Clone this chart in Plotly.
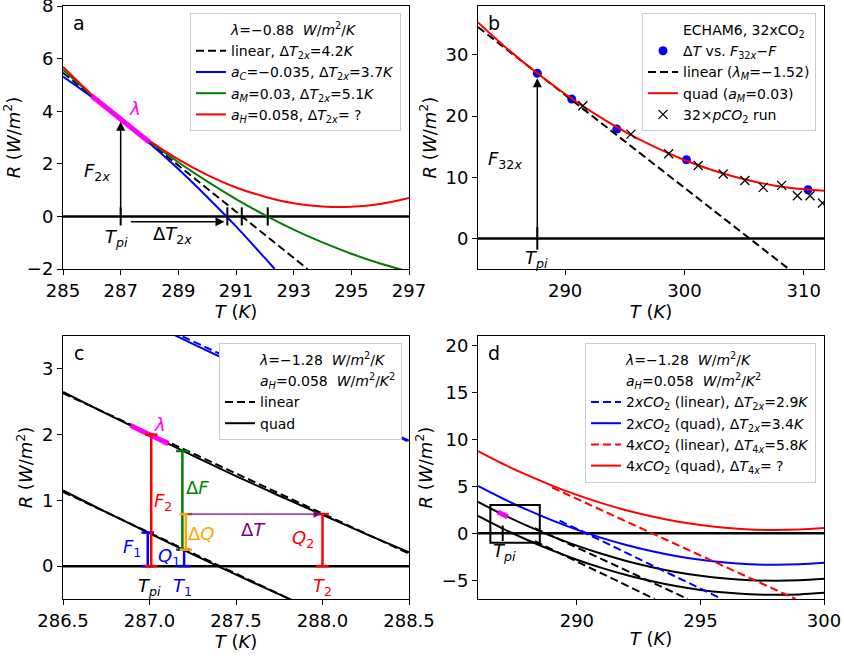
import plotly.graph_objects as go
from plotly.subplots import make_subplots

FONT = "DejaVu Sans"

# ---------------- Panel a data ----------------
a_T = [285, 286, 287, 288, 289, 290, 291, 292, 293, 294, 295, 296, 297]
a_lin_T = [285.0, 293.48]
a_lin_R = [5.46, -2.0]
a_blue_T = [285, 286, 287, 288, 289, 290, 291, 292, 292.34]
a_blue_R = [5.32, 4.54, 3.70, 2.78, 1.80, 0.74, -0.38, -1.58, -2.0]
a_green_R = [5.58, 4.61, 3.70, 2.85, 2.06, 1.33, 0.66, 0.05, -0.50, -0.99, -1.42, -1.79, -2.10]
a_red_R = [5.69, 4.63, 3.70, 2.87, 2.17, 1.58, 1.10, 0.75, 0.50, 0.38, 0.37, 0.47, 0.70]
a_lam_T = [286.0, 288.0]
a_lam_R = [4.58, 2.82]
a_tick_T = [287.0, 290.7, 291.2, 292.1]
a_Tpi = 287.0
a_F2x = 3.6
a_dT_arrow = [287.3, 290.6]

# ---------------- Panel b data ----------------
b_dot_T = [287.67, 290.56, 294.34, 300.17, 310.36]
b_dot_R = [27.0, 22.78, 17.87, 12.86, 7.96]
b_run_T = [291.49, 295.52, 298.68, 301.15, 303.25, 305.07, 306.61, 308.15, 309.47, 310.53, 311.57]
b_run_R = [21.68, 17.05, 13.84, 11.93, 10.52, 9.48, 8.34, 8.67, 6.98, 6.98, 5.78]
b_lin_T = [282.7, 308.75]
b_lin_R = [34.55, -5.0]
b_quad_T = [282.7, 285.0, 287.67, 290.0, 292.5, 295.0, 297.5, 300.0, 302.5, 305.0, 307.5, 310.0, 311.7]
b_quad_R = [35.30, 31.27, 27.0, 23.62, 20.36, 17.47, 14.96, 12.82, 11.06, 9.67, 8.66, 8.02, 7.80]
b_Tpi = 287.67
b_F32x = 26.2

# ---------------- Panel c data ----------------
c_T = [286.5, 286.75, 287.0, 287.25, 287.5, 287.75, 288.0, 288.25, 288.5]
c_up_R = [2.65, 2.32, 2.0, 1.68, 1.37, 1.07, 0.78, 0.49, 0.21]
c_lo_R = [1.15, 0.82, 0.5, 0.18, -0.13, -0.43, -0.72, -1.0, -1.28]
c_blue_R = [4.35, 4.02, 3.70, 3.38, 3.07, 2.77, 2.48, 2.19, 1.91]
c_up_lin_T = [286.5, 288.5]
c_up_lin_R = [2.63, 0.19]
c_lo_lin_T = [286.5, 287.85]
c_lo_lin_R = [1.13, -0.55]
c_blue_lin_T = [286.5, 288.5]
c_blue_lin_R = [4.34, 1.89]
c_lam_T = [286.89, 287.11]
c_lam_R = [2.14, 1.86]
c_F1_T, c_F1_R = [286.99, 286.99], [0.0, 0.51]
c_F2_T, c_F2_R = [287.01, 287.01], [0.0, 2.0]
c_Q1_T, c_Q1_R = [287.2, 287.2], [0.0, 0.25]
c_dF_T, c_dF_R = [287.19, 287.19], [0.25, 1.75]
c_dQ_T, c_dQ_R = [287.21, 287.21], [0.25, 0.79]
c_Q2_T, c_Q2_R = [288.0, 288.0], [0.0, 0.79]
c_dT_T = [287.21, 287.99]
c_dT_R = 0.79

# ---------------- Panel d data ----------------
d_T = [286, 287, 288, 289, 290, 291, 292, 293, 294, 295, 296, 297, 298, 299, 300]
d_up_R = [3.34, 2.0, 0.78, -0.33, -1.32, -2.19, -2.95, -3.59, -4.12, -4.53, -4.82, -5.0, -5.06, -5.01, -4.84]
d_lo_R = [1.84, 0.5, -0.72, -1.83, -2.82, -3.69, -4.45, -5.09, -5.62, -6.03, -6.32, -6.5, -6.56, -6.51, -6.34]
d_blue_R = [5.04, 3.7, 2.48, 1.37, 0.38, -0.49, -1.25, -1.89, -2.42, -2.83, -3.12, -3.3, -3.36, -3.31, -3.14]
d_red_R = [8.74, 7.4, 6.18, 5.07, 4.08, 3.21, 2.45, 1.81, 1.28, 0.87, 0.58, 0.4, 0.34, 0.39, 0.56]
d_up_lin_T, d_up_lin_R = [288.3, 294.49], [0.55, -7.0]
d_lo_lin_T, d_lo_lin_R = [288.3, 293.15], [-0.85, -7.0]
d_blue_lin_T, d_blue_lin_R = [289.3, 295.87], [1.35, -7.0]
d_red_lin_T, d_red_lin_R = [289.0, 298.85], [4.87, -7.0]
d_lam_T, d_lam_R = [286.8, 287.2], [2.26, 1.75]
d_Tpi = 287.0
d_box_R = [-1.0, 3.0]

# ---------------- ranges / ticks ----------------
a_xr, a_yr = [285, 297], [-2, 8]
b_xr, b_yr = [282.7, 311.7], [-5, 38]
c_xr, c_yr = [286.5, 288.5], [-0.5, 3.5]
d_xr, d_yr = [286, 300], [-7, 21]
a_xt, a_yt = [285, 287, 289, 291, 293, 295, 297], [-2, 0, 2, 4, 6, 8]
b_xt, b_yt = [290, 300, 310], [0, 10, 20, 30]
c_xt, c_yt = [286.5, 287.0, 287.5, 288.0, 288.5], [0, 1, 2, 3]
d_xt, d_yt = [290, 295, 300], [-5, 0, 5, 10, 15, 20]

W, H = 844, 664
fig = make_subplots(rows=2, cols=2)

DASH = "8px,4px"
LW = 2


def line(x, y, color, dash="solid", width=LW, row=1, col=1, name=None, legend=None, spline=False, show=False):
    fig.add_trace(go.Scatter(x=x, y=y, mode="lines",
                             line=dict(color=color, dash=dash, width=width,
                                       shape="spline" if spline else "linear", smoothing=1.0),
                             name=name, showlegend=show, legend=legend, hoverinfo="skip"),
                  row=row, col=col)


def header(text, legend, row, col):
    fig.add_trace(go.Scatter(x=[None], y=[None], mode="lines",
                             line=dict(color="rgba(0,0,0,0)", width=0),
                             name=text, showlegend=True, legend=legend), row=row, col=col)


def capbar(x, y, color, row, col):
    fig.add_trace(go.Scatter(x=x, y=y, mode="lines+markers",
                             line=dict(color=color, width=2.5),
                             marker=dict(symbol="line-ew", size=9, line=dict(color=color, width=2.5)),
                             showlegend=False, hoverinfo="skip"), row=row, col=col)


W_U = "<i>W</i>/<i>m</i><sup>2</sup>/<i>K</i>"

# ---- Panel a ----
header("<i>λ</i>=−0.88  " + W_U, "legend", 1, 1)
line(a_lin_T, a_lin_R, "black", DASH, row=1, col=1, show=True, legend="legend",
     name="linear, Δ<i>T</i><sub>2<i>x</i></sub>=4.2<i>K</i>")
line(a_blue_T, a_blue_R, "blue", row=1, col=1, show=True, legend="legend", spline=True,
     name="<i>a<sub>C</sub></i>=−0.035, Δ<i>T</i><sub>2<i>x</i></sub>=3.7<i>K</i>")
line(a_T, a_green_R, "green", row=1, col=1, show=True, legend="legend", spline=True,
     name="<i>a<sub>M</sub></i>=0.03, Δ<i>T</i><sub>2<i>x</i></sub>=5.1<i>K</i>")
line(a_T, a_red_R, "red", row=1, col=1, show=True, legend="legend", spline=True,
     name="<i>a<sub>H</sub></i>=0.058, Δ<i>T</i><sub>2<i>x</i></sub>= ?")
line(a_lam_T, a_lam_R, "#ff00ff", width=5, row=1, col=1)
fig.add_trace(go.Scatter(x=a_tick_T, y=[0] * len(a_tick_T), mode="markers",
                         marker=dict(symbol="line-ns", size=13, line=dict(color="black", width=2)),
                         showlegend=False, hoverinfo="skip"), row=1, col=1)

# ---- Panel b ----
header("ECHAM6, 32xCO<sub>2</sub>", "legend2", 1, 2)
fig.add_trace(go.Scatter(x=b_dot_T, y=b_dot_R, mode="markers",
                         marker=dict(color="blue", size=9),
                         name="Δ<i>T</i> vs. <i>F</i><sub>32<i>x</i></sub>−<i>F</i>", legend="legend2"), row=1, col=2)
line(b_lin_T, b_lin_R, "black", DASH, row=1, col=2, show=True, legend="legend2",
     name="linear (<i>λ<sub>M</sub></i>=−1.52)")
line(b_quad_T, b_quad_R, "red", row=1, col=2, show=True, legend="legend2", spline=True,
     name="quad (<i>a<sub>M</sub></i>=0.03)")
fig.add_trace(go.Scatter(x=b_run_T, y=b_run_R, mode="markers",
                         marker=dict(symbol="x-thin", size=9, line=dict(color="black", width=1.3)),
                         name="32×<i>pCO</i><sub>2</sub> run", legend="legend2"), row=1, col=2)
fig.add_trace(go.Scatter(x=[b_Tpi], y=[0], mode="markers",
                         marker=dict(symbol="line-ns", size=16, line=dict(color="black", width=2)),
                         showlegend=False, hoverinfo="skip"), row=1, col=2)

# ---- Panel c ----
header("<i>λ</i>=−1.28  " + W_U, "legend3", 2, 1)
header("<i>a<sub>H</sub></i>=0.058  <i>W</i>/<i>m</i><sup>2</sup>/<i>K</i><sup>2</sup>", "legend3", 2, 1)
line(c_T, c_blue_R, "blue", row=2, col=1, spline=True)
line(c_blue_lin_T, c_blue_lin_R, "blue", DASH, row=2, col=1)
line(c_up_lin_T, c_up_lin_R, "black", DASH, row=2, col=1, show=True, legend="legend3", name="linear")
line(c_lo_lin_T, c_lo_lin_R, "black", DASH, row=2, col=1)
line(c_T, c_up_R, "black", row=2, col=1, spline=True, show=True, legend="legend3", name="quad")
line(c_T, c_lo_R, "black", row=2, col=1, spline=True)
line(c_lam_T, c_lam_R, "#ff00ff", width=5, row=2, col=1)
capbar(c_F1_T, c_F1_R, "blue", 2, 1)
capbar(c_F2_T, c_F2_R, "red", 2, 1)
capbar(c_dF_T, c_dF_R, "green", 2, 1)
capbar(c_Q1_T, c_Q1_R, "blue", 2, 1)
capbar(c_dQ_T, c_dQ_R, "orange", 2, 1)
capbar(c_Q2_T, c_Q2_R, "red", 2, 1)

# ---- Panel d ----
header("<i>λ</i>=−1.28  " + W_U, "legend4", 2, 2)
header("<i>a<sub>H</sub></i>=0.058  <i>W</i>/<i>m</i><sup>2</sup>/<i>K</i><sup>2</sup>", "legend4", 2, 2)
line(d_up_lin_T, d_up_lin_R, "black", DASH, row=2, col=2)
line(d_lo_lin_T, d_lo_lin_R, "black", DASH, row=2, col=2)
line(d_T, d_up_R, "black", row=2, col=2, spline=True)
line(d_T, d_lo_R, "black", row=2, col=2, spline=True)
line(d_blue_lin_T, d_blue_lin_R, "blue", DASH, row=2, col=2, show=True, legend="legend4",
     name="2<i>xCO</i><sub>2</sub> (linear), Δ<i>T</i><sub>2<i>x</i></sub>=2.9<i>K</i>")
line(d_T, d_blue_R, "blue", row=2, col=2, spline=True, show=True, legend="legend4",
     name="2<i>xCO</i><sub>2</sub> (quad), Δ<i>T</i><sub>2<i>x</i></sub>=3.4<i>K</i>")
line(d_red_lin_T, d_red_lin_R, "red", DASH, row=2, col=2, show=True, legend="legend4",
     name="4<i>xCO</i><sub>2</sub> (linear), Δ<i>T</i><sub>4<i>x</i></sub>=5.8<i>K</i>")
line(d_T, d_red_R, "red", row=2, col=2, spline=True, show=True, legend="legend4",
     name="4<i>xCO</i><sub>2</sub> (quad), Δ<i>T</i><sub>4<i>x</i></sub>= ?")
line(d_lam_T, d_lam_R, "#ff00ff", width=5, row=2, col=2)
fig.add_trace(go.Scatter(x=[d_Tpi], y=[0], mode="markers",
                         marker=dict(symbol="line-ns", size=11, line=dict(color="black", width=2)),
                         showlegend=False, hoverinfo="skip"), row=2, col=2)

# ---- axes ----
dom_x = [[63 / W, 409 / W], [478 / W, 824 / W]]
dom_y_top = [1 - 269 / H, 1 - 6 / H]
dom_y_bot = [1 - 599 / H, 1 - 336 / H]
panels = [
    (1, 1, a_xr, a_yr, a_xt, a_yt, dom_x[0], dom_y_top, None),
    (1, 2, b_xr, b_yr, b_xt, b_yt, dom_x[1], dom_y_top, None),
    (2, 1, c_xr, c_yr, c_xt, c_yt, dom_x[0], dom_y_bot, ".1f"),
    (2, 2, d_xr, d_yr, d_xt, d_yt, dom_x[1], dom_y_bot, None),
]
axfont = dict(family=FONT, size=18, color="black")
for r, c, xr, yr, xt, yt, dx, dy, fmt in panels:
    fig.update_xaxes(range=xr, tickvals=xt, tickformat=fmt, domain=dx, row=r, col=c,
                     showline=True, linecolor="black", linewidth=1, mirror=True, automargin=False,
                     ticks="outside", ticklen=5, tickcolor="black", showgrid=False, zeroline=False,
                     tickfont=axfont, ticklabeloverflow="allow",
                     title=dict(text="<i>T</i> (<i>K</i>)", font=axfont, standoff=2))
    fig.update_yaxes(range=yr, tickvals=yt, domain=dy, row=r, col=c,
                     showline=True, linecolor="black", linewidth=1, mirror=True, automargin=False,
                     ticks="outside", ticklen=5, tickcolor="black", showgrid=False, zeroline=False,
                     tickfont=axfont, ticklabeloverflow="allow",
                     title=dict(text="<i>R</i> (<i>W</i>/<i>m</i><sup>2</sup>)", font=axfont, standoff=4))

# ---- zero lines & box ----
for xref, yref in [("x", "y"), ("x2", "y2"), ("x3", "y3"), ("x4", "y4")]:
    fig.add_shape(type="line", xref=xref + " domain", yref=yref, x0=0, x1=1, y0=0, y1=0,
                  line=dict(color="black", width=2.5), layer="below")
fig.add_shape(type="rect", xref="x4", yref="y4", x0=c_xr[0], x1=c_xr[1], y0=d_box_R[0], y1=d_box_R[1],
              line=dict(color="black", width=2))

# ---- annotations ----
def txt(x, y, s, ref, color="black", size=18):
    fig.add_annotation(x=x, y=y, text=s, xref="x" + ref, yref="y" + ref, showarrow=False,
                       font=dict(family=FONT, size=size, color=color))


def arrow(x0, y0, x1, y1, ref, color="black"):
    fig.add_annotation(x=x1, y=y1, ax=x0, ay=y0, xref="x" + ref, yref="y" + ref,
                       axref="x" + ref, ayref="y" + ref, text="", showarrow=True,
                       arrowhead=2, arrowsize=1.2, arrowwidth=1.5, arrowcolor=color)


for letter, ref in [("a", ""), ("b", "2"), ("c", "3"), ("d", "4")]:
    fig.add_annotation(x=0.045, y=0.985, xref="x" + ref + " domain", yref="y" + ref + " domain",
                       text=letter, showarrow=False, xanchor="center", yanchor="top",
                       font=dict(family=FONT, size=19, color="black"))

# panel a
txt(287.5, 4.12, "<i>λ</i>", "", "#ff00ff")
txt(286.17, 1.7, "<i>F</i><sub>2<i>x</i></sub>", "")
txt(286.86, -0.83, "<i>T</i><sub><i>pi</i></sub>", "")
txt(288.8, -0.71, "Δ<i>T</i><sub>2<i>x</i></sub>", "")
arrow(a_Tpi, 0, a_Tpi, a_F2x, "")
arrow(a_dT_arrow[0], -0.2, a_dT_arrow[1], -0.2, "")

# panel b
arrow(b_Tpi, 0, b_Tpi, b_F32x, "2")
txt(285.0, 12.9, "<i>F</i><sub>32<i>x</i></sub>", "2")
txt(287.6, -3.4, "<i>T</i><sub><i>pi</i></sub>", "2")

# panel c
txt(287.06, 2.16, "<i>λ</i>", "3", "#ff00ff")
txt(286.9, 0.27, "<i>F</i><sub>1</sub>", "3", "blue")
txt(287.08, 0.98, "<i>F</i><sub>2</sub>", "3", "red")
txt(287.11, 0.14, "<i>Q</i><sub>1</sub>", "3", "blue")
txt(287.28, 1.2, "Δ<i>F</i>", "3", "green")
txt(287.3, 0.5, "Δ<i>Q</i>", "3", "orange")
txt(287.6, 0.56, "Δ<i>T</i>", "3", "purple")
txt(287.89, 0.41, "<i>Q</i><sub>2</sub>", "3", "red")
txt(287.0, -0.31, "<i>T</i><sub><i>pi</i></sub>", "3")
txt(287.19, -0.31, "<i>T</i><sub>1</sub>", "3", "blue")
txt(288.0, -0.31, "<i>T</i><sub>2</sub>", "3", "red")
fig.add_annotation(x=c_dT_T[1], y=c_dT_R, ax=c_dT_T[0], ay=c_dT_R, xref="x3", yref="y3",
                   axref="x3", ayref="y3", text="", showarrow=True, arrowhead=2,
                   arrowsize=1.2, arrowwidth=1.2, arrowcolor="purple")

# panel d
txt(287.09, -1.95, "<i>T</i><sub><i>pi</i></sub>", "4")

leg = dict(bgcolor="white", bordercolor="#cccccc", borderwidth=1,
           font=dict(family=FONT, size=14, color="black"),
           xanchor="right", yanchor="top", tracegroupgap=0, itemwidth=30)
fig.update_layout(
    width=W, height=H, margin=dict(l=0, r=0, t=0, b=0, autoexpand=False),
    paper_bgcolor="white", plot_bgcolor="white",
    font=dict(family=FONT, size=14, color="black"),
    legend=dict(leg, x=401 / W, y=1 - 13 / H),
    legend2=dict(leg, x=816 / W, y=1 - 13 / H),
    legend3=dict(leg, x=402 / W, y=1 - 343 / H),
    legend4=dict(leg, x=816 / W, y=1 - 343 / H),
)

fig.write_html("out.html", config={"displayModeBar": False},
               post_script="document.body.style.margin='0px';")
